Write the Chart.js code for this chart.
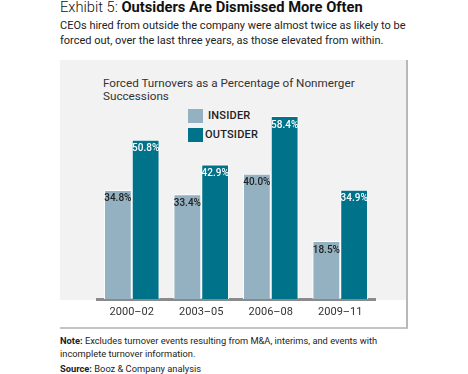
<!DOCTYPE html>
<html>
<head>
<meta charset="utf-8">
<script src="https://cdn.jsdelivr.net/npm/chart.js@4"></script>
<style>
  body { margin: 0; background: #fff; font-family: Roboto, sans-serif; color: #222; }
  #wrap { position: relative; width: 468px; height: 374px; overflow: hidden; }
  .abs { position: absolute; }
  #title { left: 60px; top: -2px; font-size: 14.7px; white-space: nowrap; color: #111; font-weight: 300; }
  #title b { font-weight: 700; }
  #sub { left: 60px; top: 18px; font-size: 11px; line-height: 15px; width: 360px; color: #222; }
  #panel { left: 60px; top: 60px; width: 346px; height: 267px; border-right: 2px solid #b8b8b8; border-bottom: 2px solid #c4c4c4; }
  #gray { left: 0; top: 0; width: 346px; height: 240px; background: #f2f2f2; }
  #ctitle { left: 43px; top: 17px; font-size: 11.7px; line-height: 13px; color: #333; width: 265px; }
  .leg { font-size: 11px; font-weight: 500; color: #222; letter-spacing: 0.2px; }
  .sw { width: 15px; height: 14px; }
  #chart { left: 0; top: 0; }
  #note { left: 60px; top: 334px; font-size: 9.3px; line-height: 13px; color: #222; width: 360px; }
</style>
</head>
<body>
<div id="wrap">
  <div id="title" class="abs">Exhibit 5: <b>Outsiders Are Dismissed More Often</b></div>
  <div id="sub" class="abs">CEOs hired from outside the company were almost twice as likely to be forced out, over the last three years, as those elevated from within.</div>
  <div id="panel" class="abs">
    <div id="gray" class="abs"></div>
    <div id="ctitle" class="abs">Forced Turnovers as a Percentage of Nonmerger<br>Successions</div>
    <div class="abs sw" style="left:128px;top:49px;background:#94b1c1"></div>
    <div class="abs leg" style="left:148px;top:49px">INSIDER</div>
    <div class="abs sw" style="left:128px;top:68px;background:#00728a"></div>
    <div class="abs leg" style="left:145px;top:68px">OUTSIDER</div>
    <canvas id="chart" class="abs" width="348" height="269"></canvas>
  </div>
  <div id="note" class="abs"><b>Note:</b> Excludes turnover events resulting from M&amp;A, interims, and events with incomplete turnover information.<div style="margin-top:2px"><b>Source:</b> Booz &amp; Company analysis</div></div>
</div>
<script>
const periods = ["2000\u201302", "2003\u201305", "2006\u201308", "2009\u201311"];
const insider = [34.8, 33.4, 40.0, 18.5];
const outsider = [50.8, 42.9, 58.4, 34.9];

const barLabels = {
  id: "barLabels",
  afterDatasetsDraw(chart) {
    const ctx = chart.ctx;
    ctx.save();
    ctx.font = "500 10px Roboto";
    ctx.textAlign = "center";
    ctx.textBaseline = "middle";
    chart.data.datasets.forEach((ds, i) => {
      ctx.fillStyle = ds.labelColor;
      chart.getDatasetMeta(i).data.forEach((bar, j) => {
        ctx.fillText(ds.data[j].toFixed(1) + "%", bar.x, bar.y + 9);
      });
    });
    ctx.restore();
  }
};

new Chart(document.getElementById("chart"), {
  type: "bar",
  data: {
    labels: periods,
    datasets: [
      { label: "INSIDER", data: insider, backgroundColor: "#94b1c1", borderColor: "#ffffff", borderWidth: 1, borderSkipped: "bottom", labelColor: "#222" },
      { label: "OUTSIDER", data: outsider, backgroundColor: "#00728a", borderColor: "#ffffff", borderWidth: 1, borderSkipped: "bottom", labelColor: "#fff" }
    ]
  },
  options: {
    responsive: false,
    animation: false,
    layout: { padding: { left: 37, right: 33, top: 51, bottom: 0 } },
    datasets: { bar: { categoryPercentage: 0.8, barPercentage: 1.0 } },
    plugins: { legend: { display: false }, tooltip: { enabled: false } },
    scales: {
      y: { display: false, min: 0, max: 60 },
      x: {
        grid: { display: false, drawTicks: false },
        border: { display: true, color: "#8a8a8a", width: 3 },
        ticks: { color: "#333", font: { family: "Roboto", size: 11 }, padding: 7 },
        afterFit(scale) { scale.height = 30; }
      }
    }
  },
  plugins: [barLabels]
});
</script>
</body>
</html>
